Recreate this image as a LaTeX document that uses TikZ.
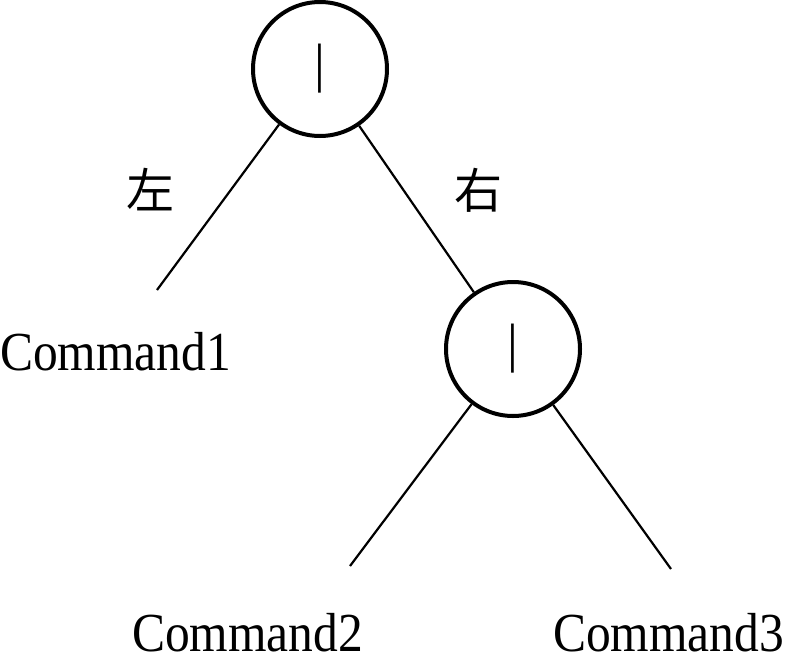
\documentclass[tikz,border=0pt]{standalone}
\usepackage{fontspec}
\setmainfont{Liberation Serif}
\newfontfamily\cjk{Noto Sans CJK SC}

\begin{document}
\begin{tikzpicture}[x=1pt,y=-1pt,
  ornode/.style={circle,draw,line width=4pt,minimum size=134pt,inner sep=0pt,
    font=\fontsize{54}{54}\selectfont},
  edge/.style={line width=2.2pt},
  cmd/.style={anchor=base west,inner sep=0pt,font=\fontsize{55}{55}\selectfont},
  side/.style={inner sep=0pt,font=\cjk\fontsize{48}{48}\selectfont}]

\useasboundingbox (0,0) rectangle (787,656);

% the two "|" nodes
\node[ornode] (ortop) at (320,69) {|};
\node[ornode] (orsub) at (513,349) {|};

% free ends of the branches
\coordinate (endone) at (157,290);
\coordinate (endtwo) at (350,566);
\coordinate (endthree) at (671,569);

\draw[edge] (ortop) -- (endone);
\draw[edge] (ortop) -- (orsub);
\draw[edge] (orsub) -- (endtwo);
\draw[edge] (orsub) -- (endthree);

\node[side] (left) at (150,190) {左};
\node[side] (right) at (478,190) {右};

\node[cmd] (cmdone) at (0,370) {\scalebox{0.9}[1]{Command1}};
\node[cmd] (cmdtwo) at (132,651) {\scalebox{0.9}[1]{Command2}};
\node[cmd] (cmdthree) at (553,651) {\scalebox{0.9}[1]{Command3}};

\end{tikzpicture}
\end{document}
